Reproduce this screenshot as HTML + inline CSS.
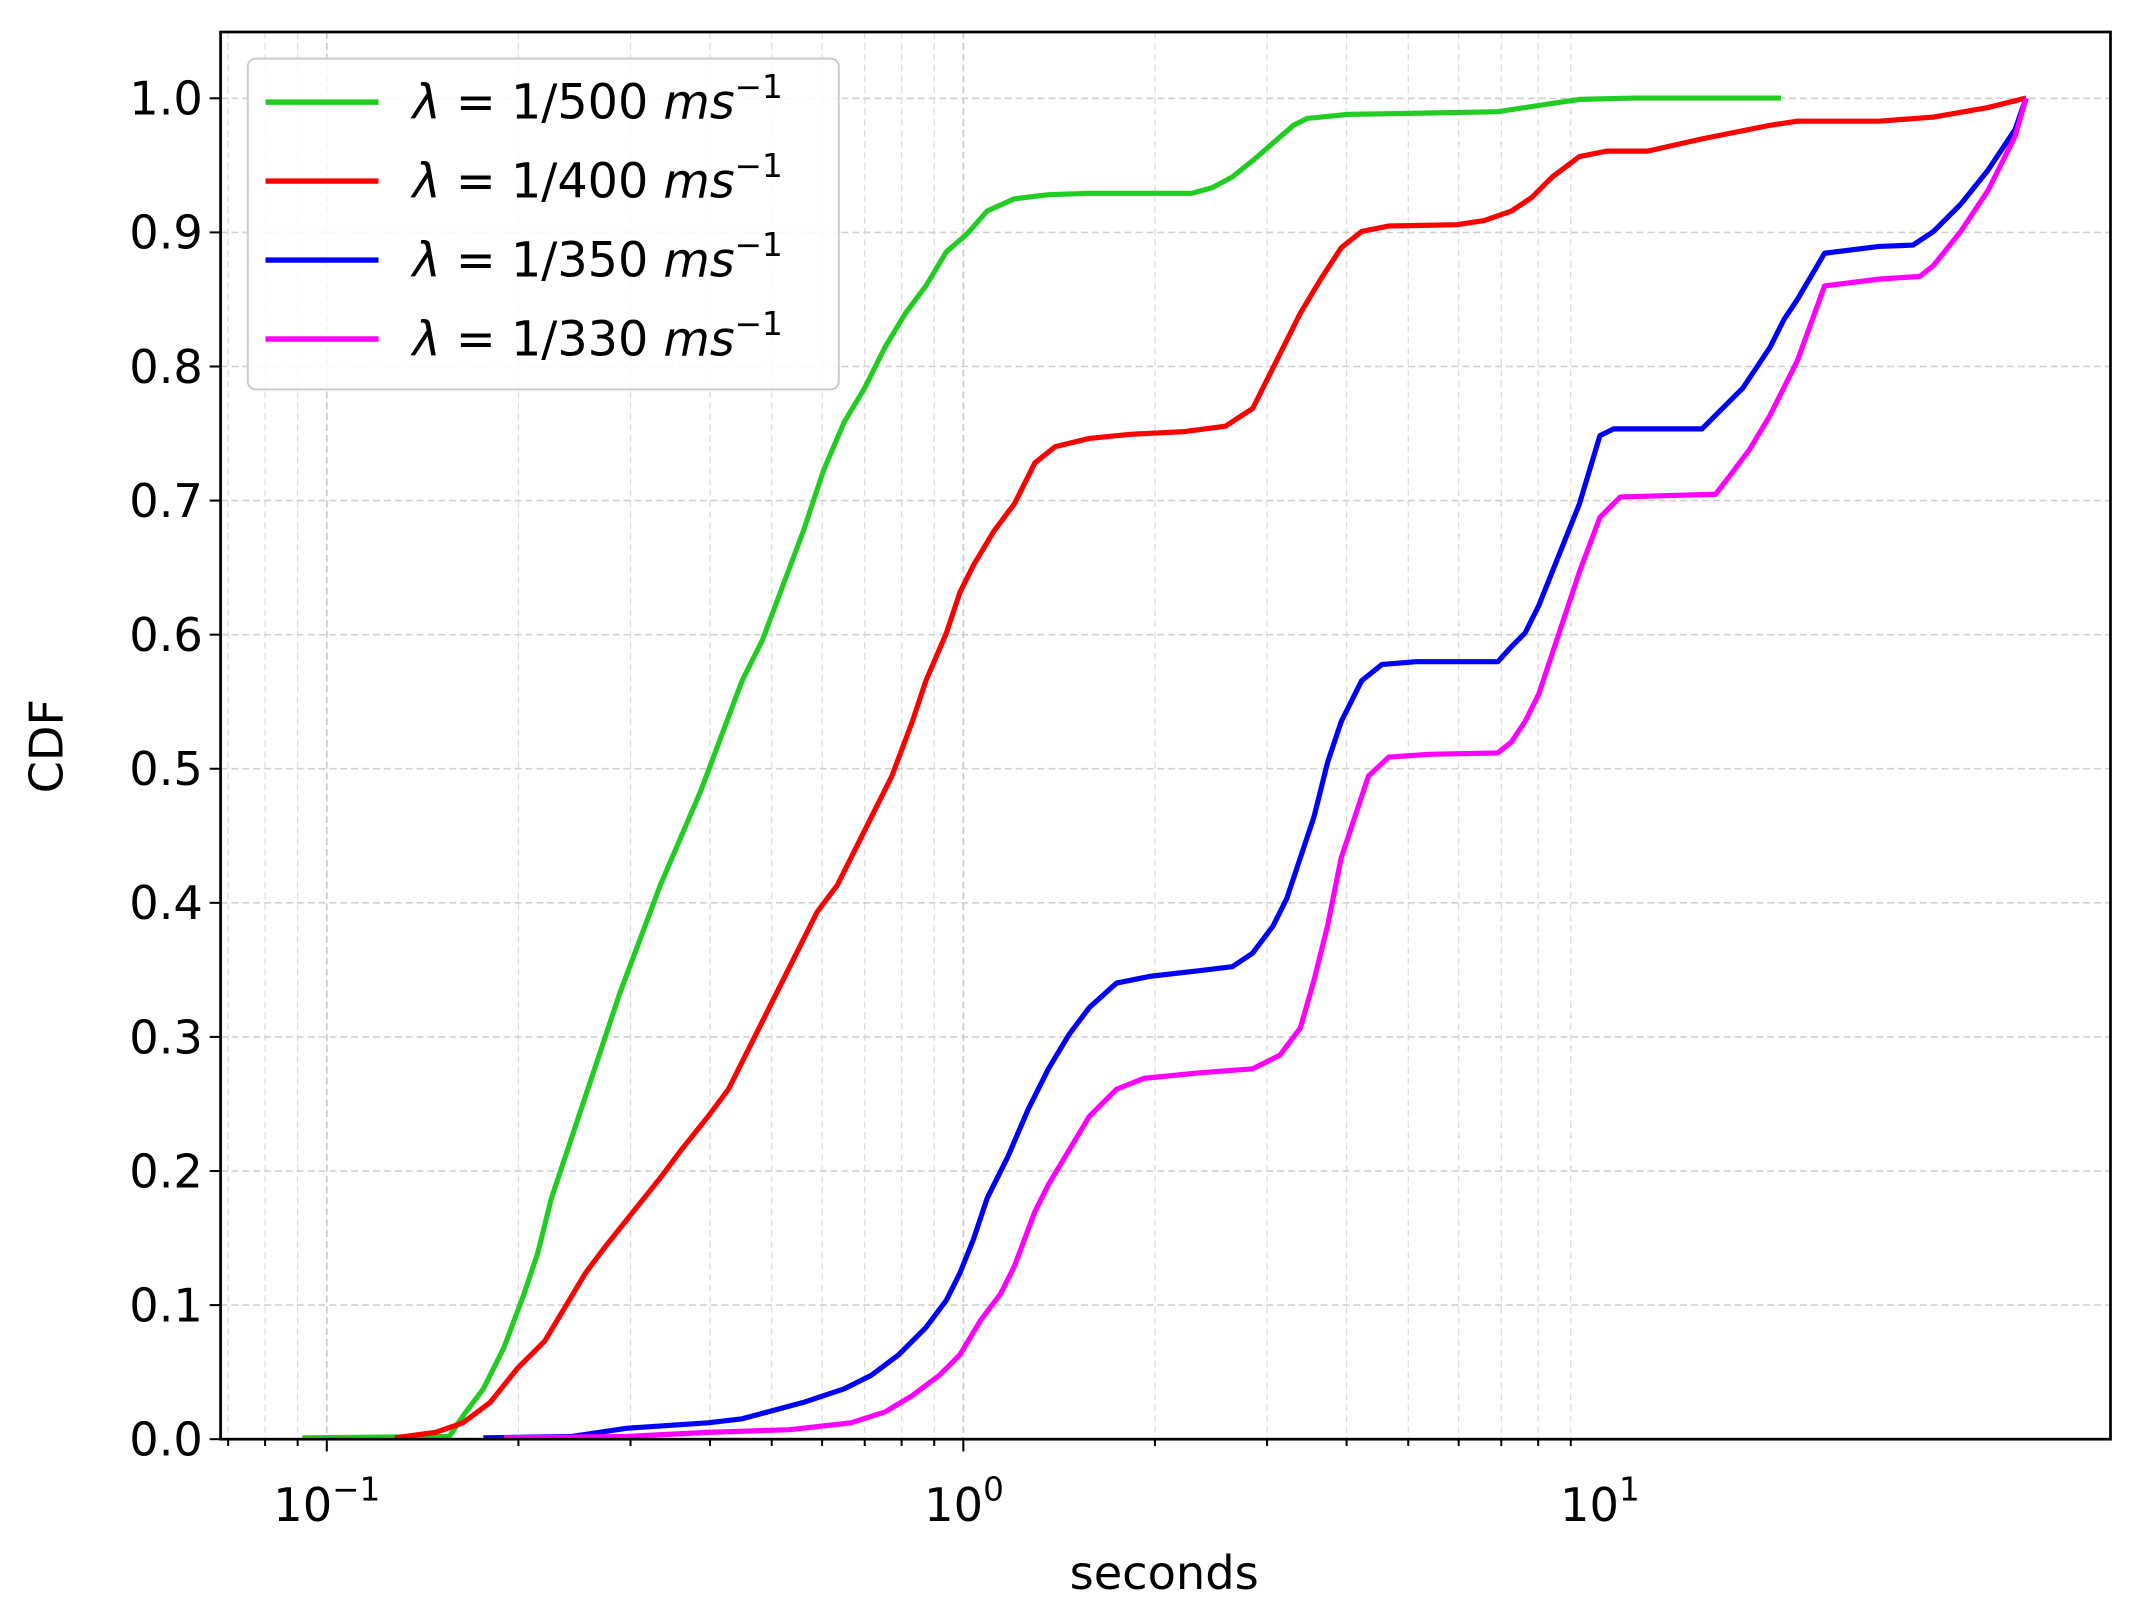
<!DOCTYPE html>
<html><head><meta charset="utf-8"><style>
html,body{margin:0;padding:0;background:#fff;}
svg{display:block;}
text{font-family:"DejaVu Sans","Liberation Sans",sans-serif;fill:#000;}
</style></head><body>
<svg id="s" width="2135" height="1620" viewBox="0 0 1568 1189.8" preserveAspectRatio="none" xmlns="http://www.w3.org/2000/svg">
<g id="grid"></g>
<g fill="none" stroke-width="3.8" stroke-linejoin="round">
<polyline stroke="#22cc22" points="222,1056 330,1055 340,1040 355,1020 370,990 385,950 395,920 405,880 415,850 425,820 435,790 445,760 455,730 470,690 485,650 500,615 515,580 530,540 545,500 560,470 575,430 590,390 605,345 620,310 635,285 650,255 665,230 680,210 695,185 710,172 725,155 745,146 770,143 800,142 875,142 890,138 905,130 920,118 935,105 950,92 960,87 990,84 1050,83 1100,82 1140,76 1160,73 1200,72 1308,72"/>
<polyline stroke="#ff0000" points="290,1056 320,1052 340,1045 360,1030 380,1005 400,985 415,960 430,935 445,915 465,890 485,865 500,845 520,820 535,800 545,780 560,750 575,720 590,690 600,670 615,650 630,620 640,600 655,570 670,530 680,500 695,465 705,435 715,415 730,390 745,370 760,340 775,328 800,322 830,319 870,317 900,313 920,300 930,280 940,260 955,230 970,205 985,182 1000,170 1020,166 1070,165 1090,162 1110,155 1125,145 1140,130 1160,115 1180,111 1210,111 1250,102 1300,92 1320,89 1380,89 1420,86 1460,79 1488,72"/>
<polyline stroke="#0000ff" points="355,1056 420,1055 460,1049 520,1045 545,1042 560,1038 590,1030 620,1020 640,1010 660,995 680,975 695,955 705,935 715,910 725,880 740,850 755,815 770,785 785,760 800,740 820,722 845,717 880,713 905,710 920,700 935,680 945,660 955,630 965,600 975,560 985,530 1000,500 1015,488 1040,486 1100,486 1110,475 1120,465 1130,445 1140,420 1150,395 1160,370 1175,320 1185,315 1250,315 1265,300 1280,285 1290,270 1300,255 1310,235 1320,220 1340,186 1380,181 1405,180 1420,170 1440,150 1460,125 1470,110 1480,95 1488,72"/>
<polyline stroke="#ff00ff" points="370,1056 460,1055 520,1052 580,1050 625,1045 650,1037 670,1025 690,1010 705,995 720,970 735,950 745,930 760,890 770,870 785,845 800,820 820,800 840,792 880,788 920,785 940,775 955,755 965,720 975,680 985,630 995,600 1005,570 1020,556 1050,554 1100,553 1110,545 1120,530 1130,510 1140,480 1150,450 1160,420 1175,380 1190,365 1260,363 1270,350 1285,330 1300,305 1310,285 1320,265 1340,210 1380,205 1410,203 1420,195 1440,170 1460,140 1480,100 1488,72"/>
</g>
<rect x="162" y="23.5" width="1388" height="1033.5" fill="none" stroke="#000" stroke-width="2"/>
<g id="ticks"></g>
<g font-size="34">
<text x="855" y="1167" text-anchor="middle">seconds</text>
<text transform="translate(46,548) rotate(-90)" text-anchor="middle">CDF</text>
<text x="240" y="1117" text-anchor="middle">10<tspan dy="-15" font-size="24">−1</tspan></text>
<text x="708" y="1117" text-anchor="middle">10<tspan dy="-15" font-size="24">0</tspan></text>
<text x="1175" y="1117" text-anchor="middle">10<tspan dy="-15" font-size="24">1</tspan></text>
</g>
<rect x="182" y="43" width="434" height="243" rx="6" fill="#fff" fill-opacity="0.85" stroke="#ccc" stroke-width="1.5"/>
<g stroke-width="4">
<line x1="195" y1="75" x2="278" y2="75" stroke="#22cc22"/>
<line x1="195" y1="133" x2="278" y2="133" stroke="#ff0000"/>
<line x1="195" y1="191" x2="278" y2="191" stroke="#0000ff"/>
<line x1="195" y1="249" x2="278" y2="249" stroke="#ff00ff"/>
</g>
<g font-size="35">
<text x="303" y="87"><tspan font-style="italic">λ</tspan> = 1/500 <tspan font-style="italic">ms</tspan><tspan dy="-15" font-size="24">−1</tspan></text>
<text x="303" y="145"><tspan font-style="italic">λ</tspan> = 1/400 <tspan font-style="italic">ms</tspan><tspan dy="-15" font-size="24">−1</tspan></text>
<text x="303" y="203"><tspan font-style="italic">λ</tspan> = 1/350 <tspan font-style="italic">ms</tspan><tspan dy="-15" font-size="24">−1</tspan></text>
<text x="303" y="261"><tspan font-style="italic">λ</tspan> = 1/330 <tspan font-style="italic">ms</tspan><tspan dy="-15" font-size="24">−1</tspan></text>
</g>
</svg>
<script>
var NS="http://www.w3.org/2000/svg",g=document.getElementById("grid"),t=document.getElementById("ticks");
function el(p,tag,a){var e=document.createElementNS(NS,tag);for(var k in a)e.setAttribute(k,a[k]);p.appendChild(e);return e;}
var L=162,R=1550,T=23.5,B=1057;
for(var d=-2;d<=1;d++)for(var k=1;k<=9;k++){var x=240+467.5*(d+Math.log10(k));if(x<L+1||x>R-1)continue;
el(g,"line",{x1:x,y1:T,x2:x,y2:B,stroke:k==1?"#c8c8c8":"#dcdcdc","stroke-width":k==1?1.2:0.9,"stroke-dasharray":"5,3"});
el(t,"line",{x1:x,y1:B,x2:x,y2:B+(k==1?9:5),stroke:"#000","stroke-width":1.5});}
for(var i=0;i<=10;i++){var y=1057-i*98.48;
if(i>0)el(g,"line",{x1:L,y1:y,x2:R,y2:y,stroke:"#d0d0d0","stroke-width":1.2,"stroke-dasharray":"5,3"});
el(t,"line",{x1:L-8,y1:y,x2:L,y2:y,stroke:"#000","stroke-width":1.5});
var tx=el(t,"text",{x:L-13,y:y+12,"text-anchor":"end","font-size":"34"});tx.textContent=(i/10).toFixed(1);}
</script>
</body></html>
